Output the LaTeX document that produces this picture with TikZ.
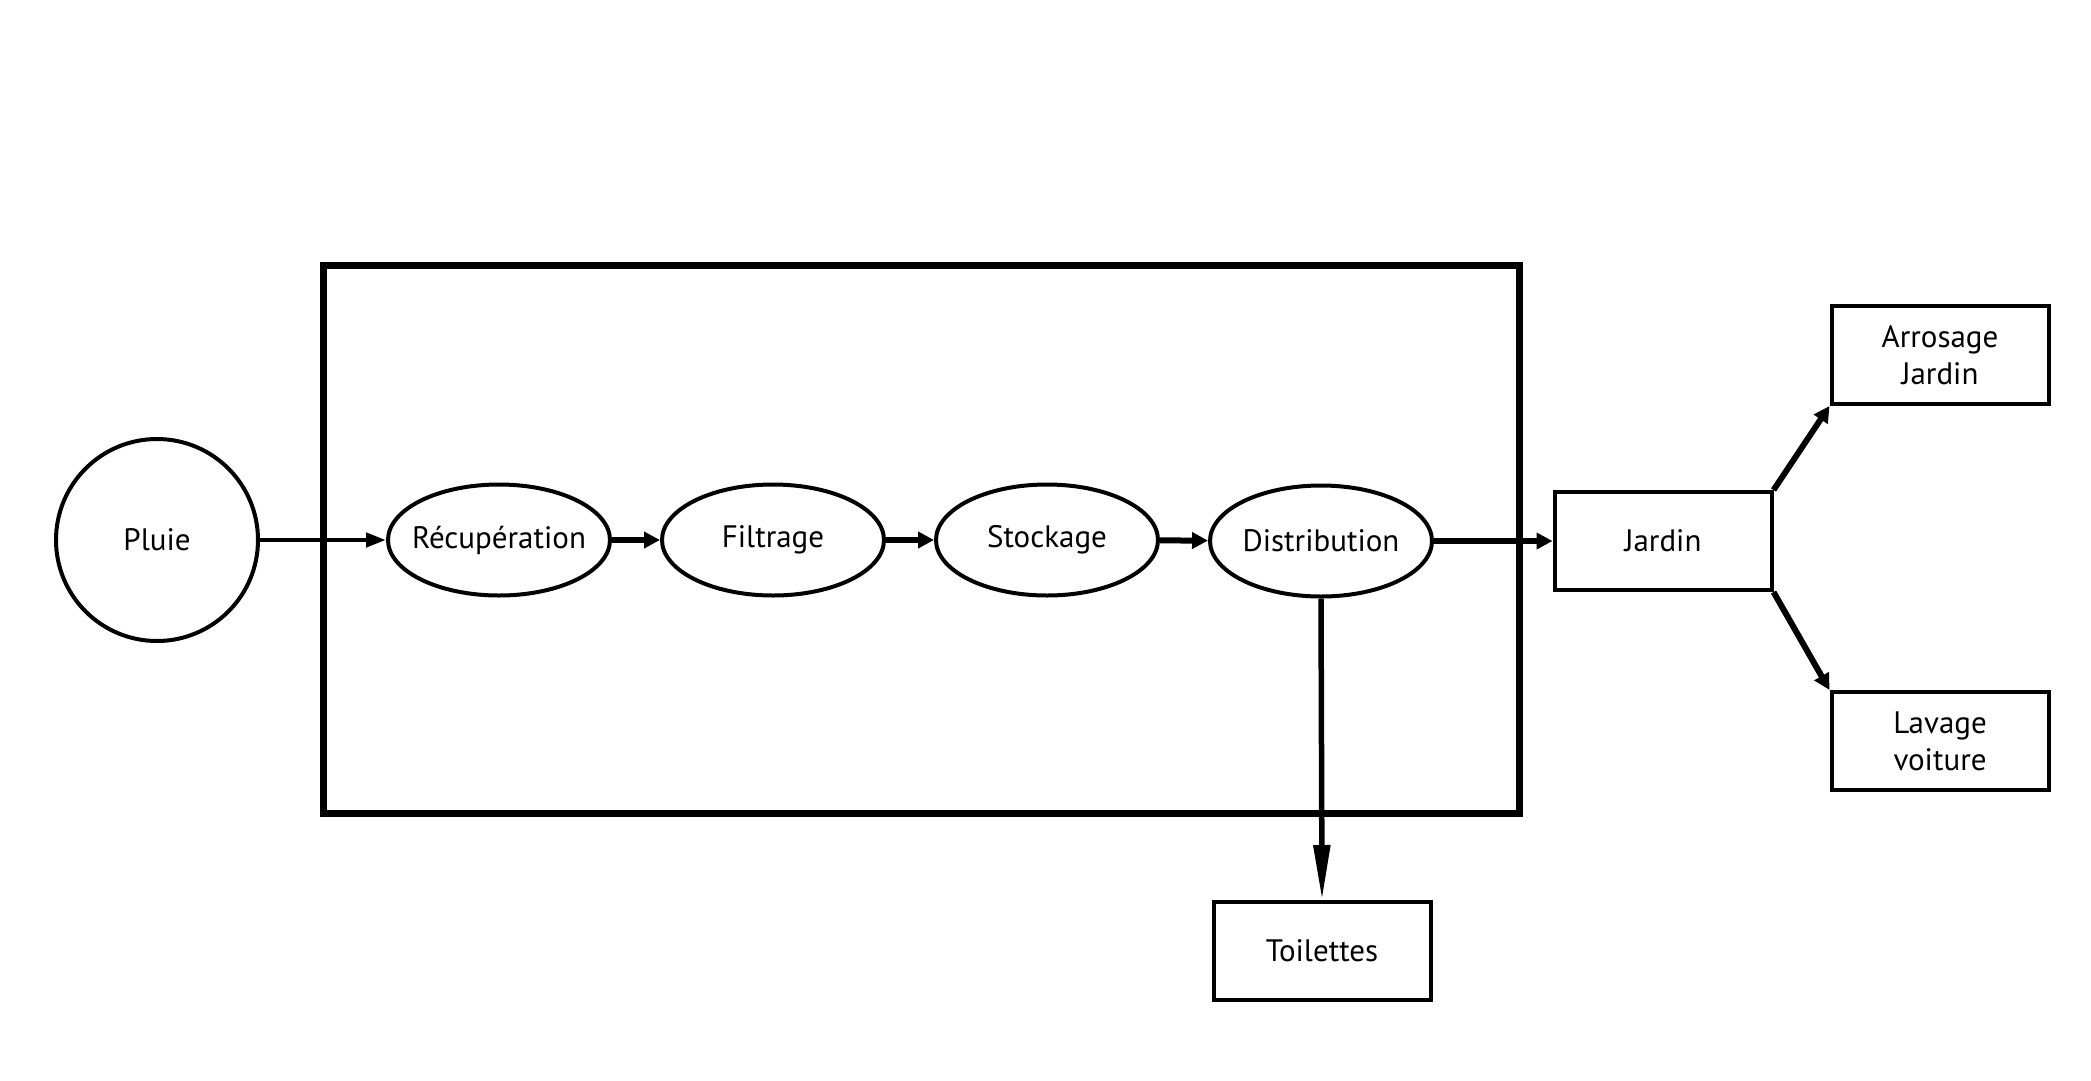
\documentclass[tikz,border=0pt]{standalone}
\usepackage{fontspec}
\setmainfont{PT Sans}
\usetikzlibrary{arrows.meta,shapes.geometric}
\begin{document}
\begin{tikzpicture}[x=1pt,y=-1pt,
  every node/.style={font=\fontsize{31}{37}\selectfont, align=center, inner sep=0pt},
  stage/.style={ellipse, draw, line width=4pt, inner xsep=-30pt, minimum width=222pt, minimum height=111pt},
  outbox/.style={rectangle, draw, line width=4pt, minimum width=217pt, minimum height=98pt},
  flow/.style={line width=6pt, -{Triangle[length=16pt,width=16pt]}},
  thinflow/.style={line width=4.5pt, -{Triangle[length=20pt,width=14pt]}}]
\useasboundingbox (0,0) rectangle (2091,1080);
% system boundary
\draw[line width=7pt] (323,265) rectangle (1519,813);
% source
\node[circle, draw, line width=4pt, minimum size=202pt] (pluie) at (157,540) {Pluie};
% treatment chain
\node[stage] (recup) at (499,540) {Récupération};
\node[stage] (filt)  at (773,540) {Filtrage};
\node[stage] (stock) at (1047,540) {Stockage};
\node[stage] (dist)  at (1321,541) {Distribution};
% uses
\node[outbox] (jardin) at (1663,541) {Jardin};
\node[outbox] (arros)  at (1940,355) {Arrosage\\Jardin};
\node[outbox] (lavage) at (1940,741) {Lavage\\voiture};
\node[outbox] (toil)   at (1322,951) {Toilettes};
% connectors
\draw[thinflow] (pluie) -- (recup);
\draw[flow] (recup) -- (filt);
\draw[flow] (filt) -- (stock);
\draw[flow] (stock) -- (dist);
\draw[flow] (dist) -- (jardin);
\draw[line width=5.5pt, -{Triangle[length=55pt,width=16pt]}] (dist.south) -- (toil.north);
\draw[flow] (jardin.north east) -- (arros.south west);
\draw[flow] (jardin.south east) -- (lavage.north west);
\end{tikzpicture}
\end{document}
